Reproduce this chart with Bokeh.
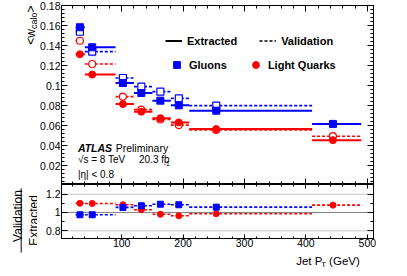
import math
from bokeh.plotting import figure
from bokeh.layouts import column, row
from bokeh.models import (LinearAxis, SingleIntervalTicker, Label, Span, Legend,
                          LegendItem, ColumnDataSource, CustomJSTickFormatter, Arrow,
                          Range1d, CustomLabelingPolicy)
from bokeh.embed import file_html
from bokeh.resources import INLINE

nan = float("nan")

# ---- data ----
bin_lo = [25, 40, 90, 120, 150, 180, 210, 410]
bin_hi = [40, 90, 120, 150, 180, 210, 410, 490]
pt_mean = [32, 52, 102, 132, 163, 193, 254, 444]
gluon_extracted = [0.1583, 0.1383, 0.1026, 0.0926, 0.0850, 0.0803, 0.0750, 0.0618]
gluon_validation = [0.1538, 0.1340, 0.1076, 0.0990, 0.0940, 0.0873, 0.0800, nan]
quark_extracted = [0.1313, 0.1110, 0.0816, 0.0740, 0.0675, 0.0633, 0.0566, 0.0456]
quark_validation = [0.1448, 0.1216, 0.0890, 0.0760, 0.0662, 0.0606, 0.0558, 0.0495]
gluon_ratio = [0.975, 0.975, 1.055, 1.073, 1.090, 1.084, 1.058, nan]
quark_ratio = [1.100, 1.098, 1.084, 1.030, 0.980, 0.964, 0.986, 1.080]

FONT = "Liberation Sans"
BLUE = "#0000ff"
RED = "#ff0000"
X_RANGE = (2, 510)
Y_MAIN = (0.0013, 0.18)
Y_RATIO = (0.716, 1.305)

src = ColumnDataSource(dict(lo=bin_lo, hi=bin_hi, x=pt_mean,
                            ge=gluon_extracted, gv=gluon_validation,
                            qe=quark_extracted, qv=quark_validation,
                            gr=gluon_ratio, qr=quark_ratio))

fmt = CustomJSTickFormatter(code="return String(parseFloat(tick.toFixed(3)));")
no_labels = CustomLabelingPolicy(code="for (const i of indices) indices.unset(i); return indices;")


def style_axis(ax, interval, minor, labels, tin, min_in, standoff=1):
    ax.ticker = SingleIntervalTicker(interval=interval, num_minor_ticks=minor)
    ax.major_tick_in = tin
    ax.major_tick_out = 0
    ax.minor_tick_in = min_in
    ax.minor_tick_out = 0
    ax.axis_line_color = "black"
    ax.major_tick_line_color = "black"
    ax.minor_tick_line_color = "black"
    ax.axis_label = None
    if labels:
        ax.formatter = fmt
        ax.major_label_text_font = FONT
        ax.major_label_text_font_size = "10.5px"
        ax.major_label_text_color = "black"
        ax.major_label_standoff = standoff
    else:
        ax.major_label_text_font_size = "0px"
        ax.major_label_standoff = 0
        ax.major_label_policy = no_labels


def base_fig(height, y_range, x_range, top, bottom):
    f = figure(width=355, height=height, x_range=x_range, y_range=y_range,
               output_backend="svg", toolbar_location=None,
               min_border_left=22, min_border_right=19,
               min_border_top=top, min_border_bottom=bottom)
    f.grid.visible = False
    f.outline_line_color = "black"
    f.outline_line_width = 1
    return f


def strip_fig(width, height, x0, x1, y0, y1):
    # plain text strip; its ranges are the page's pixel coordinates
    f = figure(width=width, height=height, x_range=Range1d(x0, x1),
               y_range=Range1d(y1, y0), x_axis_type=None, y_axis_type=None,
               output_backend="svg", toolbar_location=None,
               min_border=0, min_border_left=0, min_border_right=0,
               min_border_top=0, min_border_bottom=0)
    f.outline_line_color = None
    return f


def lab(f, x, y, text, size, style="normal", angle=0.0, align="left"):
    f.add_layout(Label(x=x, y=y, text=text, text_font=FONT, text_font_size=size,
                       text_font_style=style, text_color="black", angle=angle,
                       text_align=align, text_baseline="alphabetic"))


def mx(px):
    return X_RANGE[0] + (px - 67.0) * (X_RANGE[1] - X_RANGE[0]) / 314.0


def my(py):
    return Y_MAIN[1] - (py - 13.0) * (Y_MAIN[1] - Y_MAIN[0]) / 179.0


# ---------------- main panel ----------------
p = base_fig(184, Y_MAIN, X_RANGE, 5, 0)
style_axis(p.xaxis[0], 100, 5, False, 6, 3)
style_axis(p.yaxis[0], 0.02, 5, True, 6, 3)
ax_top = LinearAxis()
style_axis(ax_top, 100, 5, False, 6, 3)
p.add_layout(ax_top, "above")
ax_right = LinearAxis()
style_axis(ax_right, 0.02, 5, False, 6, 3)
p.add_layout(ax_right, "right")

# validation (dashed, open markers)
p.segment(x0="lo", x1="hi", y0="gv", y1="gv", source=src, line_color=BLUE,
          line_width=1.6, line_dash="3 2")
p.segment(x0="lo", x1="hi", y0="qv", y1="qv", source=src, line_color=RED,
          line_width=1.6, line_dash="3 2")
p.scatter(x="x", y="gv", source=src, marker="square", size=7, fill_color="white",
          line_color=BLUE, line_width=1.2)
p.scatter(x="x", y="qv", source=src, marker="circle", size=7, fill_color="white",
          line_color=RED, line_width=1.2)
# extracted (solid, filled markers)
p.segment(x0="lo", x1="hi", y0="ge", y1="ge", source=src, line_color=BLUE, line_width=2)
p.segment(x0="lo", x1="hi", y0="qe", y1="qe", source=src, line_color=RED, line_width=2)
r_g = p.scatter(x="x", y="ge", source=src, marker="square", size=7,
                fill_color=BLUE, line_color=BLUE)
r_q = p.scatter(x="x", y="qe", source=src, marker="circle", size=7,
                fill_color=RED, line_color=RED)

# legend (style-only renderers that draw nothing in the frame)
r_ext = p.line(x=[nan], y=[nan], line_color="black", line_width=2)
r_val = p.line(x=[nan], y=[nan], line_color="black", line_width=1.6, line_dash="3 2")


def make_legend(items, loc, standoff, spacing):
    return Legend(items=items, orientation="horizontal", location=loc,
                  padding=0, margin=0, spacing=spacing, label_standoff=standoff,
                  glyph_width=17, glyph_height=17, label_height=17,
                  border_line_alpha=0, background_fill_alpha=0,
                  label_text_font=FONT, label_text_font_size="11px",
                  label_text_font_style="bold", label_text_color="black")


p.add_layout(make_legend([LegendItem(label="Extracted", renderers=[r_ext]),
                          LegendItem(label="Validation", renderers=[r_val])],
                         (104, 135), 5, 22))
p.add_layout(make_legend([LegendItem(label="Gluons", renderers=[r_g]),
                          LegendItem(label="Light Quarks", renderers=[r_q])],
                         (107, 111), 4, 20))

# ATLAS texts
lab(p, mx(83.5), my(155.7), "ATLAS", "10.5px", "bold italic")
lab(p, mx(121.5), my(155.7), "Preliminary", "10.5px")
lab(p, mx(83.5), my(167.3), "\u221as = 8 TeV", "10px")
lab(p, mx(145), my(167.3), "20.3 fb", "10px")
lab(p, mx(170), my(171), "-1", "6.5px")
lab(p, mx(83.5), my(182), "|\u03b7| < 0.8", "10px")

# ---------------- ratio panel ----------------
r = base_fig(66, Y_RATIO, p.x_range, 0, 12)
style_axis(r.xaxis[0], 100, 5, True, 4, 2, standoff=0)
style_axis(r.yaxis[0], 0.2, 2, True, 6, 3)
rt = LinearAxis()
style_axis(rt, 100, 5, False, 4, 2)
r.add_layout(rt, "above")
rr = LinearAxis()
style_axis(rr, 0.2, 2, False, 6, 3)
r.add_layout(rr, "right")

r.add_layout(Span(location=1.0, dimension="width", line_color="#808080",
                  line_width=1, level="underlay"))
for loc in (1.2, 0.8):
    r.add_layout(Span(location=loc, dimension="width", line_color="#b4b4b4",
                      line_width=1.5, line_dash="1 1", level="underlay"))

r.segment(x0="lo", x1="hi", y0="qr", y1="qr", source=src, line_color=RED,
          line_width=1.6, line_dash="3 2")
r.segment(x0="lo", x1="hi", y0="gr", y1="gr", source=src, line_color=BLUE,
          line_width=1.6, line_dash="3 2")
r.scatter(x="x", y="qr", source=src, marker="circle", size=6, fill_color=RED, line_color=RED)
r.scatter(x="x", y="gr", source=src, marker="square", size=6, fill_color=BLUE, line_color=BLUE)

# ---------------- text strips (page pixel coordinates) ----------------
half = math.pi / 2
left = strip_fig(37, 268, 8, 45, 8, 276)
lab(left, 38, 16.5, ">", "12px", angle=half, align="center")
lab(left, 41, 28.3, "calo", "9px", angle=half, align="center")
lab(left, 38, 44.4, "<w", "12px", angle=half, align="center")
lab(left, 25.5, 223.5, "Validation", "12px", angle=half, align="center")
lab(left, 41, 228, "Extracted", "12px", angle=half, align="center")
left.add_layout(Arrow(start=None, end=None, x_start=28.7, y_start=196,
                      x_end=28.7, y_end=260, line_color="black", line_width=1))

bottom = strip_fig(355, 18, 45, 400, 258, 276)
lab(bottom, 312, 268.6, "Jet P", "11.5px")
lab(bottom, 340.5, 272.3, "T", "8px")
lab(bottom, 349.5, 268.6, "(GeV)", "11.5px")

layout = row(left, column(p, r, bottom))
open("out.html", "w").write(file_html(layout, INLINE))
